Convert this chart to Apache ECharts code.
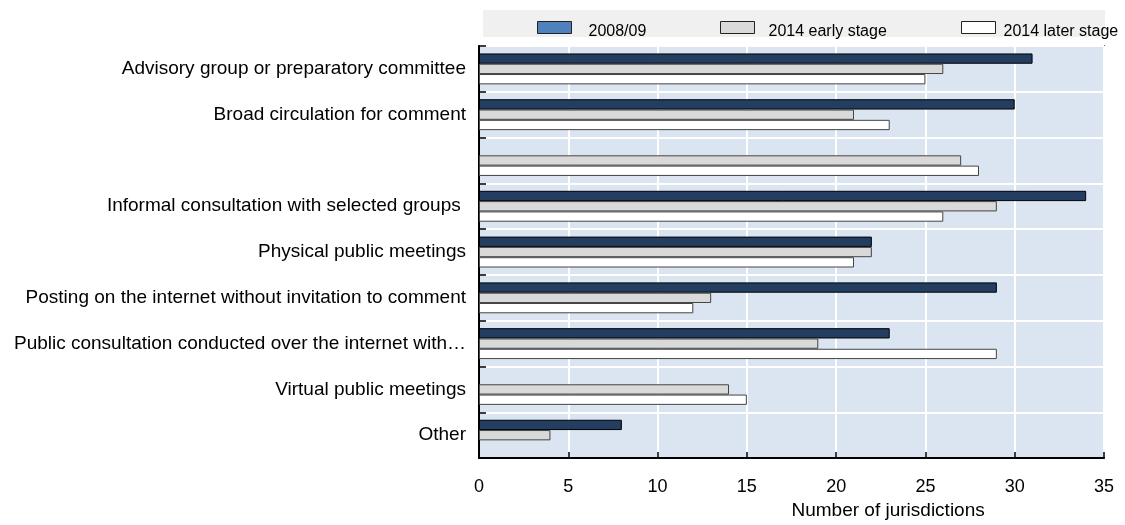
<!DOCTYPE html>
<html><head><meta charset="utf-8">
<script src="https://cdn.jsdelivr.net/npm/echarts@6/dist/echarts.min.js"></script>
<style>html,body{margin:0;padding:0;background:#fff}#c{width:1125px;height:525px}</style>
</head><body><div id="c"></div>
<script>
const categories = [
  "Advisory group or preparatory committee",
  "Broad circulation for comment",
  "",
  "Informal consultation with selected groups ",
  "Physical public meetings",
  "Posting on the internet without invitation to comment",
  "Public consultation conducted over the internet with\u2026",
  "Virtual public meetings",
  "Other"
];
const seriesNames = ["2008/09", "2014 early stage", "2014 later stage"];
const v2008 = [31, 30, null, 34, 22, 29, 23, null, 8];
const v2014early = [26, 21, 27, 29, 22, 13, 19, 14, 4];
const v2014later = [25, 23, 28, 26, 21, 12, 29, 15, null];
const xTicks = [0, 35, 5];

const FONT = '"Liberation Sans", Arial, sans-serif';
const chart = echarts.init(document.getElementById('c'));
const barColors = ['#233e60', '#d9d9d9', '#ffffff'];
const legendColors = ['#4f81bd', '#d9d9d9', '#ffffff'];
const legendX = [537, 720, 961];
const legendTextPad = [12, 9, 3];

const legends = seriesNames.map((n, i) => ({
  left: legendX[i], top: 21, padding: 0, itemWidth: 34, itemHeight: 12, icon: 'rect',
  formatter: '{t|{name}}',
  textStyle: { fontFamily: FONT, fontSize: 16, color: '#000',
    rich: { t: { fontFamily: FONT, fontSize: 16, color: '#000', padding: [8, 0, 0, legendTextPad[i]] } } },
  data: [{ name: n, itemStyle: { color: legendColors[i], borderColor: '#222', borderWidth: 1 } }],
  selectedMode: false
}));

chart.setOption({
  animation: false,
  textStyle: { fontFamily: FONT },
  graphic: [{ type: 'rect', left: 483, top: 10, shape: { width: 622, height: 27 }, style: { fill: '#f0f0f0' }, z: -1 }],
  legend: legends,
  grid: { left: 479, right: 21, top: 46, bottom: 65, show: true, backgroundColor: '#dbe5f1', borderColor: '#000', borderWidth: 1.5 },
  xAxis: {
    type: 'value', min: xTicks[0], max: xTicks[1], interval: xTicks[2],
    axisLine: { show: true, lineStyle: { color: '#000', width: 2 } },
    axisTick: { show: true, inside: true, length: 6, lineStyle: { color: '#000', width: 1.5 } },
    splitLine: { show: true, lineStyle: { color: '#fff', width: 2 } },
    axisLabel: { fontFamily: FONT, fontSize: 18, color: '#000', margin: 20 },
    name: 'Number of jurisdictions', nameLocation: 'middle', nameGap: 36,
    nameTextStyle: { fontFamily: FONT, fontSize: 19, color: '#000', align: 'left' }
  },
  yAxis: {
    type: 'category', data: categories, inverse: true,
    axisLine: { show: true, lineStyle: { color: '#000', width: 2 } },
    axisTick: { show: true, inside: true, length: 7, lineStyle: { color: '#000', width: 1.5 } },
    splitLine: { show: true, lineStyle: { color: '#fff', width: 2 } },
    axisLabel: { fontFamily: FONT, fontSize: 19, color: '#000', margin: 13 }
  },
  series: [v2008, v2014early, v2014later].map((d, i) => ({
    name: seriesNames[i], type: 'bar', data: d, barWidth: 10.3, barGap: '0%',
    itemStyle: { color: barColors[i], borderColor: i === 0 ? '#000' : '#444', borderWidth: 1 }
  }))
});
</script></body></html>
